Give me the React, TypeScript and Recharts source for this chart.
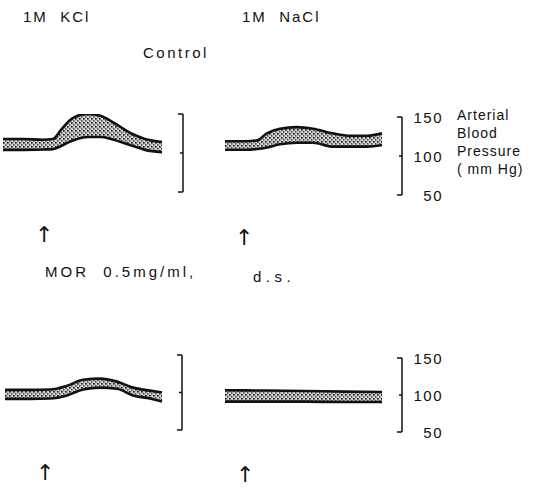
import React from 'react';
import { AreaChart, Area, XAxis, YAxis } from 'recharts';

// time (s from start of trace), systolic / diastolic (mmHg)
const kclCtlTime = [0, 20, 40, 50, 58, 66, 74, 85, 98, 108, 118, 130, 142, 159];
const kclCtlSys = [118, 118, 117, 118, 129.5, 141, 147.5, 150, 147.5, 141, 133, 124, 118, 114];
const kclCtlDia = [104, 104, 104.5, 105, 109, 114, 118, 120.5, 120.5, 118, 114, 109, 104, 101];

const naclCtlTime = [0, 20, 32, 42, 55, 72, 88, 108, 125, 142, 157];
const naclCtlSys = [119, 119, 120, 129, 135, 137, 135, 129, 126, 126, 129];
const naclCtlDia = [108, 108, 109, 111, 115, 117, 117, 112, 112, 112, 114];

const kclMorTime = [0, 25, 45, 62, 78, 95, 112, 128, 145, 157];
const kclMorSys = [103.5, 103.5, 104, 109, 117, 118.5, 114.5, 106.5, 102.5, 100];
const kclMorDia = [91.5, 91.5, 92, 96, 104, 106.5, 105, 96, 92, 88];

const naclMorTime = [0, 40, 80, 120, 157];
const naclMorSys = [106.5, 106, 105.5, 104.5, 104];
const naclMorDia = [91, 91, 91, 90.5, 90.5];

const scaleTicks = [50, 100, 150];
const axisTitle = ['Arterial', 'Blood', 'Pressure', '( mm Hg)'];

const build = (time: number[], sys: number[], dia: number[]) =>
  time.map((t, i) => ({ t, sys: sys[i], dia: dia[i] }));

const FONT = '"Liberation Sans", Arial, sans-serif';
const PAD = 12;

interface PanelProps {
  id: string;
  data: { t: number; sys: number; dia: number }[];
  left: number;
  top: number; // y of the 150 tick
  height: number; // px from 150 to 50
  plotWidth: number;
  labels?: boolean;
}

function ScaleTick({ x, y, payload, labels }: any) {
  const len = payload.value === 100 ? 3 : 5;
  return (
    <g>
      <line x1={x - len} x2={x} y1={y} y2={y} stroke="#111" strokeWidth={1.5} />
      {labels && (
        <text
          x={x + 41}
          y={y + 2}
          textAnchor="end"
          dominantBaseline="middle"
          fontSize={15}
          fontFamily={FONT}
          letterSpacing={1.5}
          fill="#111"
        >
          {payload.value}
        </text>
      )}
    </g>
  );
}

function Panel({ id, data, left, top, height, plotWidth, labels }: PanelProps) {
  const axisWidth = labels ? 50 : 4;
  return (
    <div style={{ position: 'absolute', left, top: top - PAD }}>
      <AreaChart
        width={plotWidth + axisWidth}
        height={height + PAD * 2}
        data={data}
        margin={{ top: PAD, right: 0, bottom: PAD, left: 0 }}
      >
        <defs>
          <pattern id={`stip-${id}`} width={4} height={4} patternUnits="userSpaceOnUse">
            <rect width={4} height={4} fill="#c4c4c4" />
            <rect x={0} y={0} width={1.6} height={1.6} fill="#111" />
            <rect x={2} y={2.2} width={1.4} height={1.4} fill="#333" />
            <rect x={3} y={0.6} width={1} height={1} fill="#f4f4f4" />
            <rect x={0.8} y={2.8} width={1} height={1} fill="#fff" />
          </pattern>
        </defs>
        <XAxis dataKey="t" type="number" domain={[0, plotWidth]} hide />
        <YAxis
          orientation="right"
          type="number"
          domain={[50, 150]}
          ticks={scaleTicks}
          interval={0}
          width={axisWidth}
          tickSize={0}
          tickMargin={0}
          tickLine={false}
          axisLine={{ stroke: '#111', strokeWidth: 1.5 }}
          tick={(p: any) => <ScaleTick {...p} labels={labels} />}
          allowDataOverflow
        />
        <Area
          type="monotone"
          dataKey={(d: any) => [d.dia, d.sys]}
          stroke="#111"
          strokeWidth={2.6}
          fill={`url(#stip-${id})`}
          fillOpacity={1}
          dot={false}
          activeDot={false}
          isAnimationActive={false}
        />
      </AreaChart>
    </div>
  );
}

const textStyle = (x: number, y: number, size = 15, spacing = 2): React.CSSProperties => ({
  position: 'absolute',
  left: x,
  top: y,
  fontFamily: FONT,
  fontSize: size,
  letterSpacing: spacing,
  whiteSpace: 'pre',
  color: '#111',
  lineHeight: 1,
});

const arrowStyle = (x: number, y: number): React.CSSProperties => ({
  ...textStyle(x, y, 22, 0),
  fontFamily: '"DejaVu Sans", sans-serif',
});

export default function App() {
  return (
    <div
      style={{
        position: 'absolute',
        left: 0,
        top: 0,
        width: 536,
        height: 487,
        background: '#fff',
        overflow: 'hidden',
      }}
    >
      <div style={textStyle(23, 9)}>1M  KCl</div>
      <div style={textStyle(242, 9)}>1M  NaCl</div>
      <div style={textStyle(143, 45, 15, 2.5)}>Control</div>

      <Panel id="a" data={build(kclCtlTime, kclCtlSys, kclCtlDia)} left={3} top={114} height={78} plotWidth={180} />
      <Panel id="b" data={build(naclCtlTime, naclCtlSys, naclCtlDia)} left={225} top={117} height={78} plotWidth={177} labels />

      {axisTitle.map((s, i) => (
        <div key={s} style={textStyle(457, 108 + i * 18, 14, 1)}>
          {s}
        </div>
      ))}

      <div style={arrowStyle(35, 224)}>↑</div>
      <div style={arrowStyle(235, 227)}>↑</div>

      <div style={textStyle(45, 264, 15, 3)}>MOR  0.5mg/ml,</div>
      <div style={textStyle(253, 269, 15, 4.5)}>d.s.</div>

      <Panel id="c" data={build(kclMorTime, kclMorSys, kclMorDia)} left={5} top={355} height={75} plotWidth={177} />
      <Panel id="d" data={build(naclMorTime, naclMorSys, naclMorDia)} left={225} top={358} height={74} plotWidth={177} labels />

      <div style={arrowStyle(36, 462)}>↑</div>
      <div style={arrowStyle(236, 464)}>↑</div>
    </div>
  );
}
